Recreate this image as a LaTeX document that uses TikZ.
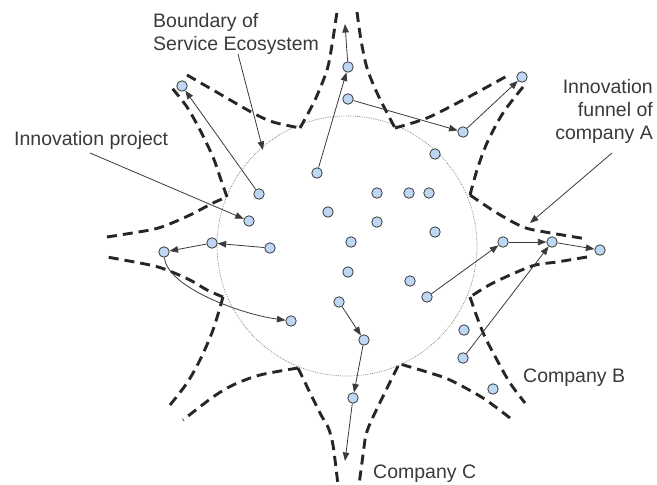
\documentclass[tikz,border=0pt]{standalone}
\usepackage{fontspec}
\setmainfont{Liberation Sans}
\usetikzlibrary{arrows.meta}
\definecolor{dotfill}{HTML}{BDD7F5}
\definecolor{ink}{HTML}{3A3A3A}
\definecolor{bndc}{HTML}{262626}
\begin{document}
\begin{tikzpicture}[x=1pt,y=-1pt,
  dot/.style={circle,minimum size=10.5pt,inner sep=0pt,fill=dotfill,draw=ink,line width=0.8pt},
  arr/.style={draw=ink,line width=0.8pt,-{Triangle[length=8.5pt,width=6.5pt]}},
  bnd/.style={draw=bndc,line width=2.9pt,dash pattern=on 10pt off 6pt},
  lbl/.style={text=ink,inner sep=0pt,font=\fontsize{19.5}{23}\selectfont}]
\useasboundingbox (0,0) rectangle (657,485);
% ecosystem circle
\draw[black!55,line width=0.7pt,dash pattern=on 0.7pt off 1.1pt] (347,246) circle (130);
% boundary (dashed star)
\draw[bnd] plot[smooth] coordinates {(187,75) (213,90) (253,113) (273,122) (300,128)};
\draw[bnd] plot[smooth] coordinates {(300,128) (315,100) (327,70) (332,45) (337,12)};
\draw[bnd] plot[smooth] coordinates {(357,12) (361,40) (367,68) (378,95) (395,128)};
\draw[bnd] plot[smooth] coordinates {(395,128) (427,118) (463,100) (507,76)};
\draw[bnd] plot[smooth] coordinates {(523,87) (503,113) (487,143) (477,170) (470,195)};
\draw[bnd] plot[smooth] coordinates {(470,195) (497,213) (523,227) (545,232) (587,239)};
\draw[bnd] plot[smooth] coordinates {(587,257) (557,262) (532,266) (493,283) (470,297)};
\draw[bnd] plot[smooth] coordinates {(470,297) (477,317) (485,337) (497,360) (510,383) (525,403)};
\draw[bnd] plot[smooth] coordinates {(510,418) (483,398) (450,380) (427,372) (400,364)};
\draw[bnd] plot[smooth] coordinates {(398,366) (373,417) (366,435) (363,455) (359,485)};
\draw[bnd] plot[smooth] coordinates {(298,368) (320,413) (328,427) (333,445) (338,485)};
\draw[bnd] plot[smooth] coordinates {(298,368) (260,375) (233,385) (213,397) (183,420)};
\draw[bnd] plot[smooth] coordinates {(170,405) (187,383) (200,360) (213,330) (223,297)};
\draw[bnd] plot[smooth] coordinates {(223,297) (207,290) (190,280) (167,270) (150,265) (107,257)};
\draw[bnd] plot[smooth] coordinates {(107,237) (150,230) (167,225) (190,215) (213,203) (227,197)};
\draw[bnd] plot[smooth] coordinates {(227,197) (220,177) (213,157) (200,130) (187,107) (172,88)};
% innovation projects
\node[dot] (a) at (182,86) {};
\node[dot] (b) at (259,194) {};
\node[dot] (c) at (249,221) {};
\node[dot] (d) at (212,243) {};
\node[dot] (e) at (164,252) {};
\node[dot] (f) at (270,248) {};
\node[dot] (g) at (291,321) {};
\node[dot] (h) at (317,173) {};
\node[dot] (i) at (348,67) {};
\node[dot] (j) at (348,99) {};
\node[dot] (k) at (463,132) {};
\node[dot] (l) at (522,77) {};
\node[dot] (m) at (435,154) {};
\node[dot] (n1) at (377,193) {};
\node[dot] (n2) at (409,193) {};
\node[dot] (n3) at (429,193) {};
\node[dot] (o1) at (328,212) {};
\node[dot] (o2) at (377,222) {};
\node[dot] (o3) at (435,232) {};
\node[dot] (p) at (351,242) {};
\node[dot] (q) at (348,272) {};
\node[dot] (r) at (410,281) {};
\node[dot] (s) at (427,297) {};
\node[dot] (t) at (503,242) {};
\node[dot] (u) at (552,242) {};
\node[dot] (v) at (600,250) {};
\node[dot] (w) at (464,330) {};
\node[dot] (x) at (463,358) {};
\node[dot] (y) at (493,389) {};
\node[dot] (z1) at (339,302) {};
\node[dot] (z2) at (364,340) {};
\node[dot] (z3) at (353,398) {};
\coordinate (tipT) at (345,24);
\coordinate (tipB) at (345,461);
% project arrows
\draw[arr] (b) -- (a);
\draw[arr] (h) -- (i);
\draw[arr] (i) -- (tipT);
\draw[arr] (j) -- (k);
\draw[arr] (k) -- (l);
\draw[arr] (f) -- (d);
\draw[arr] (d) -- (e);
\draw[arr] (e) .. controls (167,287) and (240,314) .. (g);
\draw[arr] (s) -- (t);
\draw[arr] (t) -- (u);
\draw[arr] (u) -- (v);
\draw[arr] (x) -- (u);
\draw[arr] (z1) -- (z2);
\draw[arr] (z2) -- (z3);
\draw[arr] (z3) -- (tipB);
% labels
\node[lbl,anchor=north west,align=left] (Lb) at (153,13) {Boundary of\\Service Ecosystem};
\node[lbl,anchor=base west] (Lp) at (14,145) {Innovation project};
\node[lbl,anchor=north east,align=right] (Lf) at (653,79) {Innovation\\funnel of\\company A};
\node[lbl,anchor=base west] (LB) at (523,382) {Company B};
\node[lbl,anchor=base west] (LC) at (373,478) {Company C};
\coordinate (bS) at (238,54);
\coordinate (bE) at (263,150);
\coordinate (pS) at (90,153);
\coordinate (fS) at (612,153);
\coordinate (fE) at (530,223);
\draw[arr] (bS) -- (bE);
\draw[arr] (pS) -- (c);
\draw[arr] (fS) -- (fE);
\end{tikzpicture}
\end{document}
